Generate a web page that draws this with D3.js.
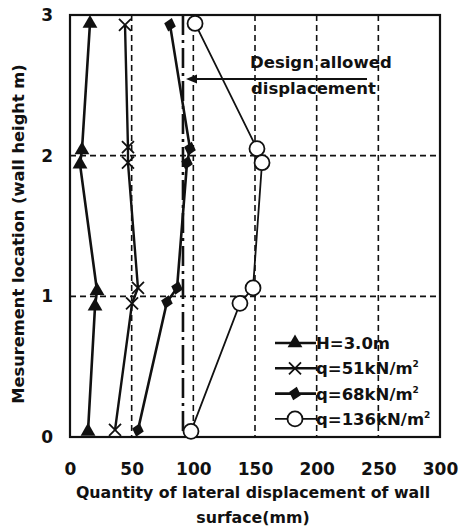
<!DOCTYPE html>
<html>
<head>
<meta charset="utf-8">
<script src="https://cdnjs.cloudflare.com/ajax/libs/d3/7.8.5/d3.min.js"></script>
<style>
  body { margin: 0; background: #fff; }
  text { font-family: "DejaVu Sans", "Liberation Sans", sans-serif; fill: #111; }
</style>
</head>
<body>
<div id="chart"></div>
<script>
// values
var xTicks = [0, 50, 100, 150, 200, 250, 300]
var yTicks = [0, 1, 2, 3]
var designLimit = 91.6

var hX = [16.2, 9.7, 8.1, 21.9, 20.3, 14.6]
var hY = [2.94, 2.04, 1.94, 1.04, 0.93, 0.04]

var q51X = [44.6, 47.0, 47.0, 55.1, 50.3, 36.5]
var q51Y = [2.93, 2.06, 1.95, 1.06, 0.95, 0.05]

var q68X = [81.1, 97.3, 94.9, 86.8, 78.6, 55.1]
var q68Y = [2.93, 2.05, 1.95, 1.06, 0.96, 0.05]

var q136X = [101.4, 151.6, 155.7, 148.4, 137.8, 98.1]
var q136Y = [2.94, 2.05, 1.95, 1.06, 0.95, 0.04]

var legendLabels = [
  {main: 'H=3.0m', sup: ''},
  {main: 'q=51kN/m', sup: '2'},
  {main: 'q=68kN/m', sup: '2'},
  {main: 'q=136kN/m', sup: '2'}
]

;(function(){
  var width = 459,
      height = 529
  var left = 70, right = 440, top = 15, bottom = 437

  var svg = d3.select('#chart')
    .append('svg')
    .attr('width', width)
    .attr('height', height)

  var x = d3.scaleLinear().domain([0, 300]).range([left, right])
  var y = d3.scaleLinear().domain([0, 3]).range([bottom, top])

  var series = [
    {xs: hX, ys: hY, marker: 'triangle', lw: 2.6},
    {xs: q51X, ys: q51Y, marker: 'cross', lw: 2.4},
    {xs: q68X, ys: q68Y, marker: 'diamond', lw: 2.6},
    {xs: q136X, ys: q136Y, marker: 'circle', lw: 1.8}
  ]

  // dashed grid
  svg.append('g')
    .selectAll('line')
    .data(xTicks.slice(1, -1))
    .enter().append('line')
    .attr('x1', d => x(d)).attr('x2', d => x(d))
    .attr('y1', top).attr('y2', bottom)
    .attr('stroke', '#111')
    .attr('stroke-width', 1.6)
    .attr('stroke-dasharray', '6,4')

  svg.append('g')
    .selectAll('line')
    .data(yTicks.slice(1, -1))
    .enter().append('line')
    .attr('x1', left).attr('x2', right)
    .attr('y1', d => y(d)).attr('y2', d => y(d))
    .attr('stroke', '#111')
    .attr('stroke-width', 1.6)
    .attr('stroke-dasharray', '6,4')

  // design allowed displacement
  svg.append('line')
    .attr('x1', x(designLimit)).attr('x2', x(designLimit))
    .attr('y1', top).attr('y2', bottom)
    .attr('stroke', '#111')
    .attr('stroke-width', 2.6)
    .attr('stroke-dasharray', '20,5,3,5')

  // axes
  var xAxis = d3.axisBottom(x).tickValues(xTicks).tickSize(0).tickPadding(26)
  var gx = svg.append('g')
    .attr('transform', `translate(0,${bottom})`)
    .call(xAxis)
  gx.select('.domain').remove()
  gx.selectAll('text')
    .style('font-family', '"DejaVu Sans", sans-serif')
    .style('font-size', '17px')
    .style('font-weight', 'bold')

  var yAxis = d3.axisLeft(y).tickValues(yTicks).tickSize(0).tickPadding(17)
    .tickFormat(d3.format('d'))
  var gy = svg.append('g')
    .attr('transform', `translate(${left},0)`)
    .call(yAxis)
  gy.select('.domain').remove()
  gy.selectAll('text')
    .style('font-family', '"DejaVu Sans", sans-serif')
    .style('font-size', '17px')
    .style('font-weight', 'bold')

  svg.append('rect')
    .attr('x', left).attr('y', top)
    .attr('width', right - left).attr('height', bottom - top)
    .attr('fill', 'none')
    .attr('stroke', '#111')
    .attr('stroke-width', 2.2)

  var line = d3.line()
    .x(d => x(d[0]))
    .y(d => y(d[1]))

  function drawMarker(g, type, cx, cy){
    if (type == 'triangle') {
      g.append('path')
        .attr('d', d3.symbol(d3.symbolTriangle, 95)())
        .attr('transform', `translate(${cx},${cy})`)
        .attr('fill', '#111')
    } else if (type == 'diamond') {
      g.append('path')
        .attr('d', 'M0,-7L6,0L0,7L-6,0Z')
        .attr('transform', `translate(${cx},${cy}) rotate(15)`)
        .attr('fill', '#111')
    } else if (type == 'cross') {
      g.append('path')
        .attr('d', 'M-6,-6L6,6M-6,6L6,-6')
        .attr('transform', `translate(${cx},${cy})`)
        .attr('stroke', '#111')
        .attr('stroke-width', 1.8)
    } else {
      g.append('circle')
        .attr('cx', cx).attr('cy', cy).attr('r', 7.5)
        .attr('fill', '#fff')
        .attr('stroke', '#111')
        .attr('stroke-width', 1.8)
    }
  }

  series.forEach(function(s){
    var pts = s.xs.map((v, i) => [v, s.ys[i]])
    svg.append('path')
      .datum(pts)
      .attr('d', line)
      .attr('fill', 'none')
      .attr('stroke', '#111')
      .attr('stroke-width', s.lw)
    var g = svg.append('g')
    pts.forEach(function(p){
      drawMarker(g, s.marker, x(p[0]), y(p[1]))
    })
  })

  // annotation
  svg.append('line')
    .attr('x1', x(designLimit) + 6).attr('x2', 367)
    .attr('y1', 79).attr('y2', 79)
    .attr('stroke', '#111')
    .attr('stroke-width', 1.8)
  svg.append('path')
    .attr('d', 'M0,0L11,-4.5L11,4.5Z')
    .attr('transform', `translate(${x(designLimit) + 3},79)`)
    .attr('fill', '#111')
  svg.append('text')
    .attr('x', 250).attr('y', 68)
    .style('font-size', '16.5px')
    .style('font-weight', 'bold')
    .text('Design allowed')
  svg.append('text')
    .attr('x', 251).attr('y', 94)
    .style('font-size', '16.5px')
    .style('font-weight', 'bold')
    .text('displacement')

  // legend
  var legend = svg.append('g')
  legendLabels.forEach(function(l, i){
    var ly = 343 + i * 25.3
    legend.append('line')
      .attr('x1', 275).attr('x2', 316)
      .attr('y1', ly).attr('y2', ly)
      .attr('stroke', '#111')
      .attr('stroke-width', series[i].lw)
    drawMarker(legend, series[i].marker, 295, ly)
    var t = legend.append('text')
      .attr('x', 316).attr('y', ly + 6)
      .style('font-size', '16.5px')
      .style('font-weight', 'bold')
      .text(l.main)
    if (l.sup) {
      t.append('tspan')
        .attr('dy', -7)
        .style('font-size', '9px')
        .text(l.sup)
    }
  })

  // axis titles
  svg.append('text')
    .attr('transform', `translate(24,${(top + bottom) / 2 + 8}) rotate(-90)`)
    .attr('text-anchor', 'middle')
    .style('font-size', '16.3px')
    .style('font-weight', 'bold')
    .text('Mesurement location (wall height m)')

  svg.append('text')
    .attr('x', 253).attr('y', 498)
    .attr('text-anchor', 'middle')
    .style('font-size', '15.8px')
    .style('font-weight', 'bold')
    .text('Quantity of lateral displacement of wall')
  svg.append('text')
    .attr('x', 253).attr('y', 523)
    .attr('text-anchor', 'middle')
    .style('font-size', '15.8px')
    .style('font-weight', 'bold')
    .text('surface(mm)')
})()
</script>
</body>
</html>
